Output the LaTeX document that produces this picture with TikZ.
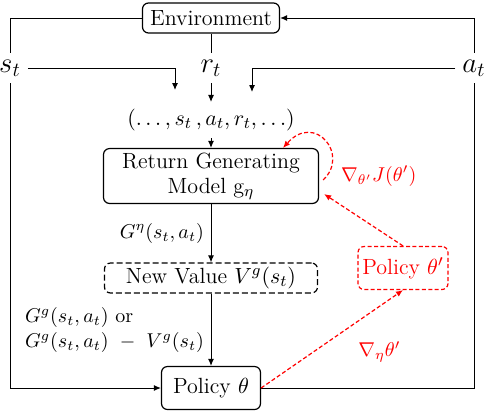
\documentclass[tikz,border=0pt]{standalone}
\usepackage{amsmath}
\usepackage{amssymb}
\usetikzlibrary{arrows.meta}

\begin{document}
\begin{tikzpicture}[
  x=0.5pt, y=-0.5pt,
  >={Latex[length=3.5pt, width=3pt]},
  box/.style={draw, rounded corners=3pt, align=center, font=\fontsize{11}{12.5}\selectfont,
              inner sep=2pt, line width=0.6pt},
  dbox/.style={box, dash pattern=on 3pt off 1.5pt},
  rbox/.style={box, red, dash pattern=on 2pt off 1.2pt},
  sig/.style={font=\Large},
  lbl/.style={font=\fontsize{10}{12.5}\selectfont},
  link/.style={line width=0.5pt},
  grad/.style={->, red, line width=0.6pt, dash pattern=on 2pt off 1.2pt},
]
\useasboundingbox (0,0) rectangle (486,414);
\node[box, minimum width=68.5pt, minimum height=15pt] (env) at (211,18) {Environment};
\node[sig] (st) at (10,68) {$s_t$};
\node[sig] (rt) at (211,68) {$r_t$};
\node[sig] (at) at (474,68) {$a_t$};
\node[lbl, font=\fontsize{11}{13}\selectfont] (tup) at (211,120) {$(\ldots, s_t\,, a_t, r_t, \ldots)$};
\node[box, minimum width=107.5pt, minimum height=26.5pt] (ret) at (211,176) {Return Generating\\Model g$_\eta$};
\node[dbox, minimum width=106.5pt, minimum height=15pt] (nv) at (211,278) {New Value $V^g(s_t)$};
\node[box, minimum width=49.5pt, minimum height=21.5pt] (pol) at (211,388) {Policy $\theta$};
\node[rbox, minimum width=45pt, minimum height=21.5pt] (pp) at (403,268) {Policy $\theta'$};
\node[lbl, red, anchor=west] (jlbl) at (334,176) {$\nabla_{\theta'}J(\theta')$};
\coordinate (sin) at (175,90);
\coordinate (ain) at (252,92);
% environment loop
\draw[link] (env.west) -| (st.north);
\draw[link] (env.south) -- (rt.north);
\draw[link, ->] (at.north) |- (env.east);
\draw[link, ->] (st.east) -| (sin);
\draw[link, ->] (rt.south) -- (tup.north);
\draw[link, ->] (at.west) -| (ain);
\draw[link, ->] (st.south) |- (pol.west);
\draw[link] (pol.east) -| (at.south);
% main column
\draw[link, ->] (tup.south) -- (ret.north);
\draw[link, ->] (ret.south) -- node[lbl, left] {$G^\eta(s_t,a_t)$} (nv.north);
\draw[link, ->] (nv.south) -- node[lbl, left, align=left]
  {$G^g(s_t,a_t)$ or\\$G^g(s_t,a_t)\ -\ V^g(s_t)$} (pol.north);
% meta gradients
\draw[grad] (pol.east) -- node[lbl, red, pos=0.55, below right, xshift=6pt] {$\nabla_\eta\theta'$} (pp.south);
\draw[grad] (pp.north) -- ([xshift=2.5pt, yshift=5pt]ret.south east);
\draw[grad] ([xshift=2pt, yshift=-2pt]ret.east) .. controls (350,155) and (315,112) .. ([xshift=36pt]ret.north);
\end{tikzpicture}
\end{document}
